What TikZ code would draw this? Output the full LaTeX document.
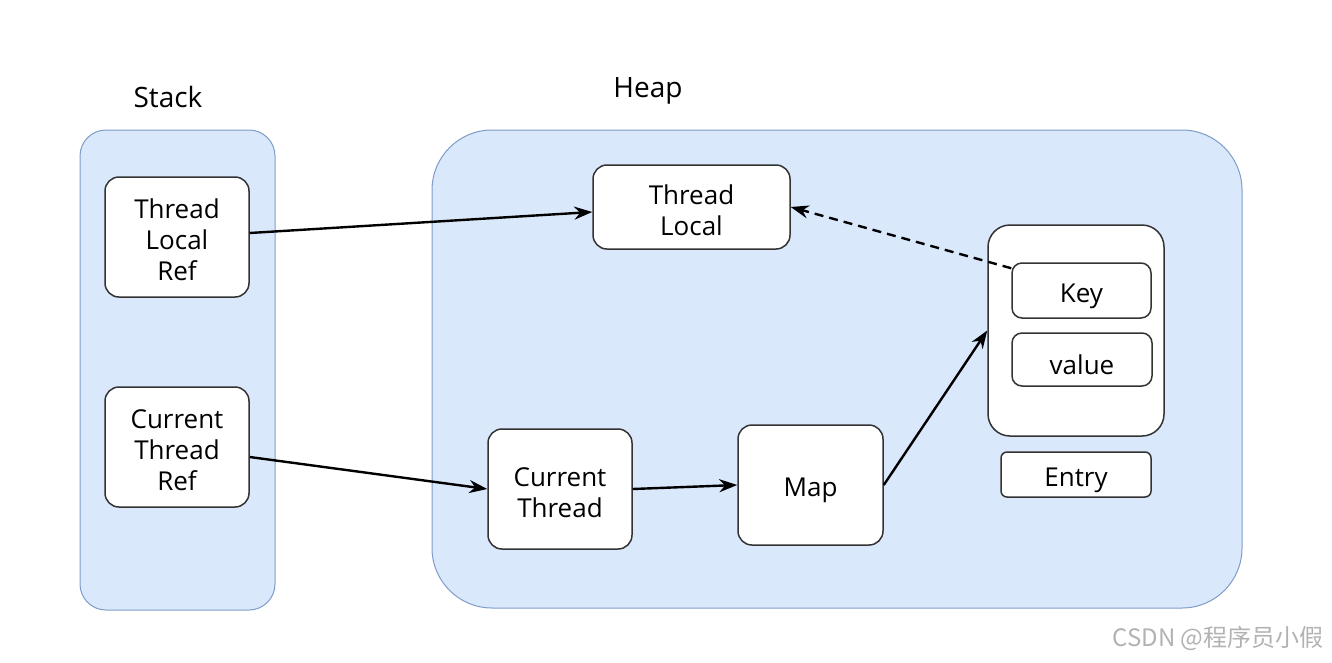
\documentclass[tikz,border=0pt]{standalone}
\usepackage{fontspec}
\setmainfont{Open Sans}
\newfontfamily\cjk{Noto Sans CJK SC}
\usetikzlibrary{arrows.meta}
\definecolor{areafill}{HTML}{DAE8FC}
\definecolor{arealine}{HTML}{7F9CC8}
\newcommand\linestrut{\rule{0pt}{26pt}}
\begin{document}
\begin{tikzpicture}[x=1pt, y=-1pt,
    area/.style={draw=arealine, fill=areafill, line width=1pt, inner sep=0pt},
    box/.style={draw=black!80, fill=white, rounded corners=14pt, line width=1.5pt,
        align=center, inner sep=0pt, font=\fontsize{26}{31}\selectfont,
        execute at begin node={\rule{0pt}{30pt}}},
    title/.style={font=\fontsize{28}{32}\selectfont},
    link/.style={-{Stealth[length=18pt, width=13pt]}, line width=2.4pt}]
    \useasboundingbox (0,0) rectangle (1332,662);
    % Areas
    \node[area, rounded corners=26pt, minimum width=195pt, minimum height=480pt] (stack) at (177.5,370) {};
    \node[area, rounded corners=60pt, minimum width=810pt, minimum height=478pt] (heap) at (837,369) {};
    \node[title] (stacklbl) at (168,97) {Stack};
    \node[title] (heaplbl) at (648,91) {Heap};
    % Stack refs
    \node[box, minimum width=144pt, minimum height=120pt] (tlref) at (177,237) {\linestrut Thread\\Local\\Ref};
    \node[box, minimum width=144pt, minimum height=120pt] (ctref) at (177,447) {\linestrut Current\\Thread\\Ref};
    % Heap objects
    \node[box, minimum width=197pt, minimum height=84pt] (tl) at (691.5,207) {\linestrut Thread\\Local};
    \node[box, minimum width=144pt, minimum height=120pt] (ct) at (560,489) {\linestrut Current\\Thread};
    \node[box, minimum width=145pt, minimum height=120pt] (map) at (810.5,485) {Map};
    \node[draw=black!80, fill=white, rounded corners=22pt, line width=1.5pt, minimum width=176pt, minimum height=211pt] (entry) at (1076,330.5) {};
    \node[box, rounded corners=10pt, minimum width=139pt, minimum height=55pt] (key) at (1081.5,290.5) {Key};
    \node[box, rounded corners=10pt, minimum width=140pt, minimum height=53pt] (value) at (1082,359.5) {value};
    \node[box, rounded corners=6pt, minimum width=150pt, minimum height=45pt] (entrylbl) at (1076,474.5) {Entry};
    % Links
    \draw[link] ([yshift=4pt]tlref.east) -- ([yshift=-5pt]tl.west);
    \draw[link] ([yshift=-10pt]ctref.east) -- (ct.west);
    \draw[link] (ct.east) -- (map.west);
    \draw[link] (map.east) -- (entry.west);
    \draw[link, dash pattern=on 9pt off 6pt] ([yshift=-6pt]key.north west) -- (tl.east);
    % Watermark
    \node[text=black!30, font=\cjk\fontsize{24}{28}\selectfont] (mark) at (1218,638) {CSDN @程序员小假};
\end{tikzpicture}
\end{document}
